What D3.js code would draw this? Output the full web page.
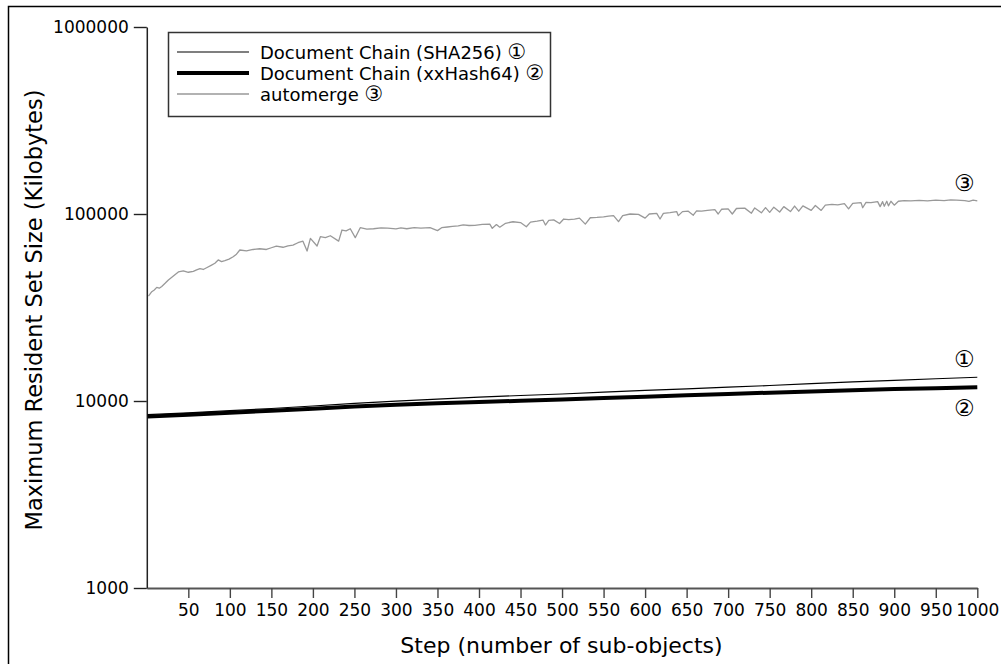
<!DOCTYPE html>
<html>
<head>
<meta charset="utf-8">
<script src="https://cdn.jsdelivr.net/npm/d3@7"></script>
<style>
  body { margin: 0; background: #fff; }
  svg { display: block; font-family: "DejaVu Sans", sans-serif; }
</style>
</head>
<body>
<div id="container"></div>
<script>
// values
const chainSteps = [1, 50, 100, 150, 200, 250, 300, 350, 400, 450, 500, 550, 600, 650, 700, 750, 800, 850, 900, 950, 1000]
const sha256Rss = [8450, 8650, 8880, 9120, 9400, 9720, 9980, 10230, 10480, 10700, 10900, 11150, 11400, 11620, 11850, 12100, 12380, 12650, 12900, 13150, 13400]
const xxhashRss = [8250, 8450, 8650, 8880, 9100, 9350, 9550, 9720, 9870, 10030, 10200, 10380, 10550, 10730, 10900, 11080, 11250, 11420, 11580, 11700, 11850]

const automergeSteps = [
  2, 6, 9, 12, 15, 18, 22, 26, 32, 38, 44, 50, 56, 60, 64, 68, 72, 78, 82, 86, 90, 94, 99, 104, 108, 112, 120, 128, 136, 144, 150, 156, 164, 170, 176, 182, 188, 193, 197, 205, 209,
  215, 221, 231, 235, 240, 245, 251, 257, 265, 273, 282, 290, 300, 306, 313, 322, 330, 341, 350, 355, 362, 368, 375, 381, 388, 395, 404, 413, 416, 421, 425, 432, 441, 450,
  457, 462, 470, 477, 480, 484, 490, 497, 502, 508, 515, 521, 528, 534, 542, 550, 556, 562, 568, 573, 582, 592, 600, 605, 614, 618, 622, 630, 638,
  640, 645, 652, 658, 662, 668, 675, 684, 688, 692, 700, 705, 710, 720, 728, 732, 740, 745, 750, 755, 762, 767, 775, 780, 785, 790,
  800, 805, 812, 817, 825, 832, 840, 845, 850, 860, 862, 866, 872, 880, 883, 886, 888, 891, 893, 896, 900, 905, 912, 920, 930, 940, 950, 960, 968, 975, 985,
  990, 995, 1000
]
const automergeRss = [
  36400, 38400, 39200, 40500, 40100, 41000, 42600, 44400, 46600, 49000, 49700, 48800, 49300, 50200, 51000, 50500, 51600, 53300, 54500, 56800, 55600, 56300, 57400, 59100, 61000, 64200, 63500, 64600, 65200, 64600, 66000, 67400, 66400, 67600, 68200, 70200, 71600, 63400, 74100, 67400, 75600,
  74800, 76500, 71600, 82100, 81200, 83400, 74700, 84500, 83000, 83400, 84300, 84000, 83200, 84200, 83400, 84600, 84000, 84500, 81500, 84500, 85200, 85800, 86400, 87500, 86800, 87000, 88000, 88200, 83800, 87800, 85000, 89200, 90900, 90000,
  85500, 90500, 91500, 92800, 87300, 92500, 93000, 89000, 94000, 93200, 94000, 95000, 88300, 95500, 95900, 96500, 97400, 98000, 91000, 98000, 100000, 99500, 95000, 100000, 100700, 94000, 100800, 101800, 103000,
  98000, 103000, 103500, 98500, 104000, 103600, 104500, 105500, 100000, 106000, 106500, 100000, 107000, 107500, 101000, 107800, 101500, 108200, 102000, 108800, 102500, 109500, 103000, 110300, 103500, 110600,
  104500, 111000, 104500, 111500, 112500, 112000, 113500, 106500, 114000, 115000, 108000, 115500, 115000, 116500, 109500, 116500, 110000, 117000, 110500, 117000, 111500, 117000, 117800, 117500, 118300, 117500, 118600, 118000, 119000, 118500, 118000,
  116800, 118500, 117500
]

const yTicks = [1000, 10000, 100000, 1000000]
const xTicks = d3.range(50, 1001, 50)

const series = [
  { label: "Document Chain (SHA256) ", mark: "\u2460", steps: chainSteps, values: sha256Rss, color: "#000", width: 1.2, dy: -18 },
  { label: "Document Chain (xxHash64) ", mark: "\u2461", steps: chainSteps, values: xxhashRss, color: "#000", width: 4, dy: 21 },
  { label: "automerge ", mark: "\u2462", steps: automergeSteps, values: automergeRss, color: "#999", width: 1.3, dy: -18 }
]

const width = 1001
const height = 664

const svg = d3.create("svg")
  .attr("width", width)
  .attr("height", height)

// figure frame (only top and left edges fall inside the window)
svg.append("rect")
  .attr("x", 8.5).attr("y", 6.5)
  .attr("width", 1100).attr("height", 800)
  .attr("fill", "none")
  .attr("stroke", "#000")
  .attr("stroke-width", 1.5)

const x = d3.scaleLinear().domain([0, 1000]).range([146.8, 977.3])
const y = d3.scaleLog().domain([1000, 1000000]).range([588, 27])

const xAxis = svg.append("g")
  .attr("transform", "translate(0,588)")
  .call(d3.axisBottom(x).tickValues(xTicks).tickSize(10).tickSizeOuter(0).tickPadding(6).tickFormat(d3.format("d")))
xAxis.select(".domain").attr("stroke", "#555").attr("stroke-width", 1.8)
xAxis.selectAll(".tick line").attr("stroke", "#444").attr("stroke-width", 1.4)
xAxis.selectAll("text").attr("font-size", 17).attr("fill", "#000").attr("font-family", "DejaVu Sans")

const yAxis = svg.append("g")
  .attr("transform", "translate(146.8,0)")
  .call(d3.axisLeft(y).tickValues(yTicks).tickSize(13).tickSizeOuter(0).tickPadding(5).tickFormat(d3.format("d")))
yAxis.select(".domain").attr("stroke", "#222").attr("stroke-width", 1.5)
yAxis.selectAll(".tick line").attr("stroke", "#222").attr("stroke-width", 1.4)
yAxis.selectAll("text").attr("font-size", 17).attr("fill", "#000").attr("font-family", "DejaVu Sans")

svg.append("text")
  .attr("x", 561.5).attr("y", 653)
  .attr("text-anchor", "middle")
  .attr("font-size", 22)
  .text("Step (number of sub-objects)")

svg.append("text")
  .attr("transform", "translate(42,310) rotate(-90)")
  .attr("text-anchor", "middle")
  .attr("font-size", 22.5)
  .text("Maximum Resident Set Size (Kilobytes)")

const line = d3.line()
  .x(d => x(d[0]))
  .y(d => y(d[1]))

const plot = svg.append("g")
series.slice().reverse().forEach(s => {
  plot.append("path")
    .datum(s.steps.map((st, i) => [st, s.values[i]]))
    .attr("fill", "none")
    .attr("stroke", s.color)
    .attr("stroke-width", s.width)
    .attr("stroke-linejoin", "round")
    .attr("d", line)
})

// circled markers at the end of each series
series.forEach(s => {
  const last = s.values[s.values.length - 1]
  svg.append("text")
    .attr("x", x(1000) - 13)
    .attr("y", y(last) + s.dy)
    .attr("text-anchor", "middle")
    .attr("dominant-baseline", "central")
    .attr("font-size", 23)
    .text(s.mark)
})

// legend
const legend = svg.append("g").attr("transform", "translate(168,32)")
legend.append("rect")
  .attr("x", 0.5).attr("y", 0.5)
  .attr("width", 382).attr("height", 84)
  .attr("fill", "#fff")
  .attr("stroke", "#333")
  .attr("stroke-width", 1.5)

const rows = legend.selectAll("g.row")
  .data(series)
  .enter()
  .append("g")
  .attr("transform", (d, i) => `translate(0,${20 + i * 21})`)

rows.append("line")
  .attr("x1", 9).attr("x2", 81)
  .attr("stroke", d => d.color)
  .attr("stroke-width", d => d.width)

const labels = rows.append("text")
  .attr("x", 92)
  .attr("dominant-baseline", "central")
  .attr("font-size", 18)
labels.append("tspan").text(d => d.label)
labels.append("tspan").attr("font-size", 21).text(d => d.mark)

document.querySelector("#container").appendChild(svg.node())
</script>
</body>
</html>
